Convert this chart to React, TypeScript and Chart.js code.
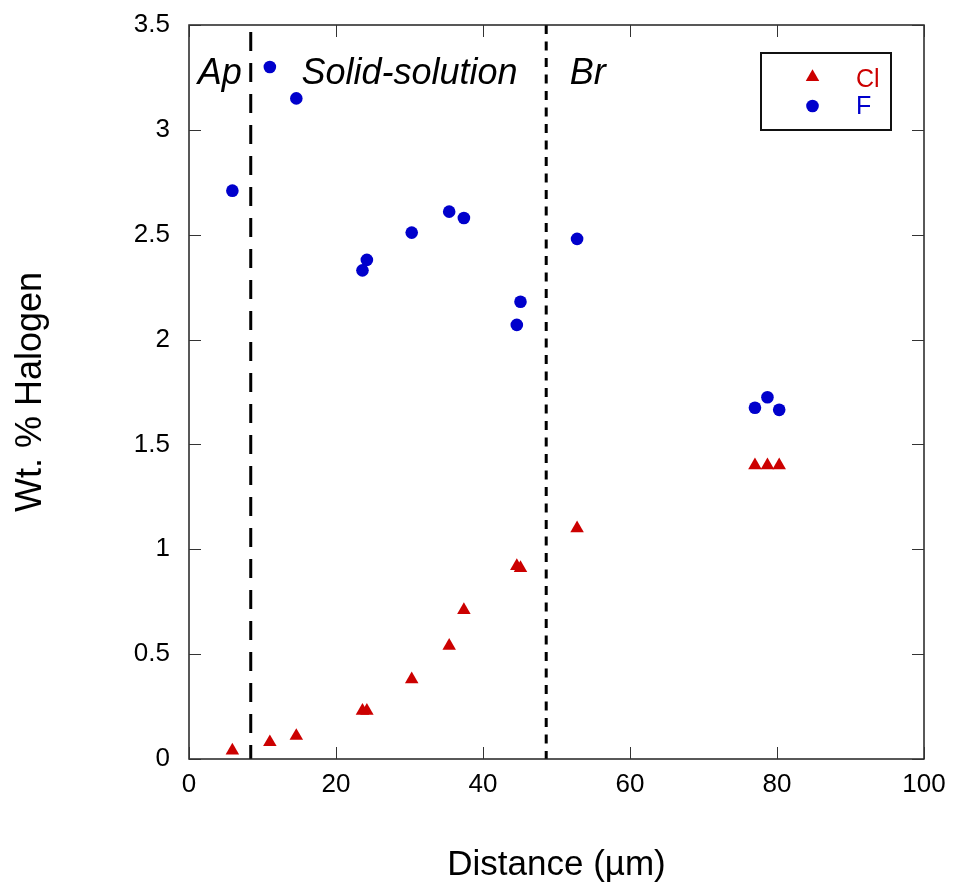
import React, { useEffect, useRef } from 'react';
import { Chart, registerables } from 'chart.js';

Chart.register(...registerables);

// ---- Data ----
const distance = [5.9, 11.0, 14.6, 23.6, 24.2, 30.3, 35.4, 37.4, 44.6, 45.1, 52.8, 77.0, 78.7, 80.3];
const clValues = [0.04, 0.08, 0.11, 0.23, 0.23, 0.38, 0.54, 0.71, 0.92, 0.91, 1.1, 1.4, 1.4, 1.4];
const fValues = [2.71, 3.3, 3.15, 2.33, 2.38, 2.51, 2.61, 2.58, 2.07, 2.18, 2.48, 1.675, 1.725, 1.665];

const boundaryX = [8.4, 48.6];
const zoneLabels = ['Ap', 'Solid-solution', 'Br'];
const zoneLabelX = [1.2, 15.3, 51.8];
const zoneLabelY = 3.22;

const seriesNames = ['Cl', 'F'];
const xTickStep = 20;
const yTickStep = 0.5;

const RED = '#cc0000';
const BLUE = '#0000cc';
const FONT = "'Liberation Sans', Arial, Helvetica, sans-serif";

const framePlugin = {
  id: 'framePlugin',
  beforeDatasetsDraw(chart: any) {
    const { ctx, chartArea: a, scales } = chart;
    const xs = scales.x;
    const ys = scales.y;
    ctx.save();
    // dashed boundaries
    const dashes = [[19, 12], [9, 7.5]];
    const starts = [7, 0];
    boundaryX.forEach((v, i) => {
      const px = xs.getPixelForValue(v);
      ctx.beginPath();
      ctx.setLineDash(dashes[i]);
      ctx.lineWidth = 3;
      ctx.strokeStyle = '#000';
      ctx.moveTo(px, a.top + starts[i]);
      ctx.lineTo(px, a.bottom);
      ctx.stroke();
    });
    ctx.setLineDash([]);
    // frame
    ctx.lineWidth = 1.5;
    ctx.strokeStyle = '#222';
    ctx.strokeRect(a.left, a.top, a.right - a.left, a.bottom - a.top);
    // inward ticks on all four sides
    const tl = 12;
    ctx.lineWidth = 1;
    ctx.strokeStyle = '#333';
    ctx.beginPath();
    xs.ticks.forEach((t: any) => {
      const px = Math.round(xs.getPixelForValue(t.value)) + 0.5;
      ctx.moveTo(px, a.bottom);
      ctx.lineTo(px, a.bottom - tl);
      ctx.moveTo(px, a.top);
      ctx.lineTo(px, a.top + tl);
    });
    ys.ticks.forEach((t: any) => {
      const py = Math.round(ys.getPixelForValue(t.value)) + 0.5;
      ctx.moveTo(a.left, py);
      ctx.lineTo(a.left + tl, py);
      ctx.moveTo(a.right, py);
      ctx.lineTo(a.right - tl, py);
    });
    ctx.stroke();
    // zone labels
    ctx.fillStyle = '#000';
    ctx.font = `italic 36px ${FONT}`;
    ctx.textAlign = 'left';
    ctx.textBaseline = 'alphabetic';
    zoneLabels.forEach((s, i) => {
      ctx.fillText(s, xs.getPixelForValue(zoneLabelX[i]), ys.getPixelForValue(zoneLabelY));
    });
    ctx.restore();
  },
  afterDraw(chart: any) {
    const { ctx, chartArea: a } = chart;
    ctx.save();
    const bx = a.right - 163;
    const by = a.top + 28;
    const bw = 130;
    const bh = 77;
    ctx.fillStyle = '#fff';
    ctx.fillRect(bx, by, bw, bh);
    ctx.lineWidth = 2;
    ctx.strokeStyle = '#111';
    ctx.strokeRect(bx, by, bw, bh);
    const colors = [RED, BLUE];
    const rows = [by + 26, by + 53];
    const mx = bx + 51.5;
    // triangle
    const r = 7.8;
    ctx.fillStyle = colors[0];
    ctx.beginPath();
    const cy0 = rows[0] - r / 4;
    ctx.moveTo(mx, cy0 - r);
    ctx.lineTo(mx + r * Math.sin(Math.PI / 3), cy0 + r / 2);
    ctx.lineTo(mx - r * Math.sin(Math.PI / 3), cy0 + r / 2);
    ctx.closePath();
    ctx.fill();
    // circle
    ctx.fillStyle = colors[1];
    ctx.beginPath();
    ctx.arc(mx, rows[1], 6.3, 0, Math.PI * 2);
    ctx.fill();
    ctx.font = `25px ${FONT}`;
    ctx.textAlign = 'left';
    ctx.textBaseline = 'middle';
    seriesNames.forEach((s, i) => {
      ctx.fillStyle = colors[i];
      ctx.fillText(s, bx + 95, rows[i] + 1);
    });
    ctx.restore();
  },
};

export default function App() {
  const ref = useRef<HTMLCanvasElement>(null);
  useEffect(() => {
    const chart = new Chart(ref.current as HTMLCanvasElement, {
      type: 'scatter',
      data: {
        datasets: [
          {
            label: seriesNames[0],
            data: distance.map((x, i) => ({ x, y: clValues[i] })),
            pointStyle: 'triangle',
            pointRadius: 7.8,
            pointBackgroundColor: RED,
            pointBorderColor: RED,
            pointBorderWidth: 0,
            backgroundColor: RED,
            borderColor: RED,
          },
          {
            label: seriesNames[1],
            data: distance.map((x, i) => ({ x, y: fValues[i] })),
            pointStyle: 'circle',
            pointRadius: 6.3,
            pointBackgroundColor: BLUE,
            pointBorderColor: BLUE,
            pointBorderWidth: 0,
            backgroundColor: BLUE,
            borderColor: BLUE,
          },
        ],
      },
      options: {
        responsive: false,
        animation: false,
        devicePixelRatio: 1,
        layout: { padding: { top: 25, right: 29, left: 0, bottom: 0 } },
        plugins: {
          legend: { display: false },
          tooltip: { enabled: false },
        },
        scales: {
          x: {
            type: 'linear',
            min: 0,
            max: 100,
            ticks: {
              stepSize: xTickStep,
              color: '#000',
              font: { family: FONT, size: 26 },
              padding: 10,
              maxRotation: 0,
              callback: (v: any) => String(v),
            },
            grid: { display: false, drawTicks: false },
            border: { display: false },
            title: {
              display: true,
              text: 'Distance (µm)',
              color: '#000',
              font: { family: FONT, size: 35 },
              padding: { top: 0, bottom: 6 },
            },
            afterFit: (s: any) => {
              s.height = 133;
              s.paddingLeft = 0;
              s.paddingRight = 0;
            },
          },
          y: {
            type: 'linear',
            min: 0,
            max: 3.5,
            ticks: {
              stepSize: yTickStep,
              color: '#000',
              font: { family: FONT, size: 26 },
              padding: 19,
              callback: (v: any) => String(v),
            },
            grid: { display: false, drawTicks: false },
            border: { display: false },
            title: {
              display: true,
              text: 'Wt. % Halogen',
              color: '#000',
              font: { family: FONT, size: 36 },
              padding: { top: 9, bottom: 0 },
            },
            afterFit: (s: any) => {
              s.width = 189;
              s.paddingTop = 0;
              s.paddingBottom = 0;
            },
          },
        },
      } as any,
      plugins: [framePlugin],
    });
    return () => chart.destroy();
  }, []);
  return (
    <div style={{ position: 'absolute', left: 0, top: 0, width: 953, height: 892, background: '#fff' }}>
      <canvas ref={ref} width={953} height={892} />
    </div>
  );
}
